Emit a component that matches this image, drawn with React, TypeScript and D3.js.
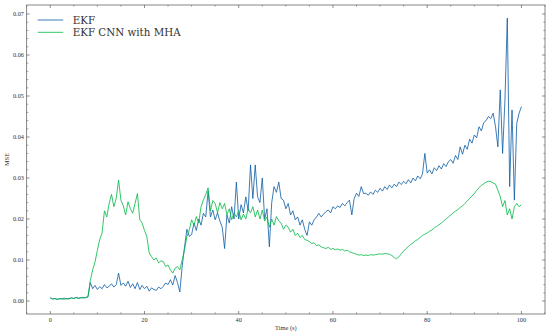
import React from "react";
import * as d3 from "d3";

const seriesNames = ["EKF", "EKF CNN with MHA"];
const xTicks = [0, 20, 40, 60, 80, 100];
const yTicks = [0, 0.01, 0.02, 0.03, 0.04, 0.05, 0.06, 0.07];
const yTickLabels = ["0.00", "0.01", "0.02", "0.03", "0.04", "0.05", "0.06", "0.07"];

// sampled every 0.5 s from 0 to 100 s
const ekf = [
  0.0008, 0.0005, 0.0006, 0.0004, 0.0006, 0.0005, 0.0007, 0.0005, 0.0006, 0.0008,
  0.0006, 0.0009, 0.0007, 0.0008, 0.0009, 0.0008, 0.001, 0.0045, 0.003, 0.0038,
  0.0028, 0.0035, 0.003, 0.004, 0.0032, 0.0036, 0.0042, 0.0034, 0.004, 0.0068,
  0.0038, 0.0044, 0.0036, 0.0048, 0.0033, 0.0042, 0.003, 0.0045, 0.0028, 0.0038,
  0.003, 0.0036, 0.0024, 0.0032, 0.0028, 0.0026, 0.0034, 0.003, 0.0036, 0.0044,
  0.004, 0.0052, 0.0039, 0.0062, 0.0045, 0.0022, 0.0085, 0.0132, 0.0175, 0.0158,
  0.0162, 0.019, 0.0172, 0.02, 0.0185, 0.0214, 0.0205, 0.0268, 0.0205, 0.0222,
  0.0198, 0.0215, 0.0195, 0.018, 0.0128, 0.021, 0.019, 0.023, 0.02, 0.029,
  0.02, 0.0235, 0.0215, 0.0254, 0.022, 0.0332, 0.025, 0.0332, 0.0254, 0.024,
  0.03, 0.02, 0.0225, 0.0132, 0.024, 0.0279, 0.0265, 0.029, 0.025, 0.0246,
  0.0225, 0.0238, 0.021, 0.022, 0.0198, 0.0205, 0.0185, 0.0198, 0.0175, 0.016,
  0.0193, 0.0185, 0.0198, 0.0205, 0.0214, 0.0205, 0.0212, 0.0218, 0.0222, 0.0215,
  0.023, 0.0225, 0.0232, 0.0228, 0.0238, 0.0232, 0.024, 0.0246, 0.021, 0.025,
  0.0263, 0.0255, 0.0279, 0.0262, 0.0263, 0.0258, 0.0266, 0.026, 0.027, 0.0265,
  0.0275, 0.0268, 0.0279, 0.0272, 0.0283, 0.0276, 0.0285, 0.0279, 0.029, 0.0284,
  0.0292, 0.0286, 0.0296, 0.0288, 0.03, 0.0293, 0.0305, 0.0298, 0.031, 0.036,
  0.0312, 0.032, 0.031, 0.0325, 0.0318, 0.033, 0.0322, 0.0335, 0.0328, 0.034,
  0.0345, 0.0336, 0.0355, 0.0345, 0.0376, 0.0358, 0.038, 0.037, 0.0395, 0.0385,
  0.0405, 0.0398, 0.0425, 0.0415, 0.0435, 0.044, 0.045, 0.0445, 0.0458, 0.0425,
  0.0376, 0.0515, 0.036, 0.049, 0.069, 0.0279, 0.0466, 0.0246, 0.0433, 0.0458,
  0.0474,
];

const cnnMha = [
  0.0007, 0.0005, 0.0006, 0.0004, 0.0005, 0.0006, 0.0004, 0.0006, 0.0005, 0.0007,
  0.0006, 0.0008, 0.0006, 0.0008, 0.0007, 0.0009, 0.001, 0.005, 0.0076, 0.0095,
  0.0124, 0.015, 0.0166, 0.022, 0.0205, 0.0238, 0.026, 0.023, 0.025, 0.0295,
  0.0246, 0.0232, 0.021, 0.0242, 0.0225, 0.0214, 0.0238, 0.0262, 0.0198, 0.019,
  0.0172, 0.0157, 0.0117, 0.0108, 0.01, 0.0105, 0.0093, 0.0098, 0.0096, 0.0084,
  0.0088, 0.0076, 0.0068, 0.008, 0.0084, 0.0076, 0.01, 0.0125, 0.0157, 0.0173,
  0.0198, 0.0185, 0.0206, 0.019, 0.023, 0.0246, 0.026, 0.0276, 0.022, 0.0245,
  0.0238, 0.0215, 0.024, 0.0225, 0.0238, 0.021, 0.0225, 0.0198, 0.0215, 0.0205,
  0.022, 0.0198, 0.0212, 0.02, 0.0225, 0.0215, 0.023, 0.0205, 0.0222, 0.02,
  0.0222, 0.0195, 0.0205, 0.018, 0.02, 0.0185, 0.0206, 0.0195, 0.019, 0.0175,
  0.0185, 0.018, 0.0168, 0.0175, 0.016, 0.0165, 0.0155, 0.016, 0.015, 0.0148,
  0.0145, 0.014, 0.0142, 0.0135, 0.0137, 0.0132, 0.013, 0.0128, 0.0131, 0.0126,
  0.0128, 0.0125, 0.0127, 0.0124, 0.0126, 0.0122, 0.0124, 0.012, 0.0118, 0.0116,
  0.0114, 0.0112, 0.0113, 0.0111, 0.0112, 0.0111, 0.0113, 0.0112, 0.0113, 0.0114,
  0.0115, 0.0114, 0.0116, 0.0115, 0.0114, 0.0111, 0.0106, 0.0103, 0.0108, 0.0115,
  0.0122, 0.0128, 0.0133, 0.0138, 0.0142, 0.0147, 0.015, 0.0155, 0.016, 0.0163,
  0.0166, 0.017, 0.0173, 0.0178, 0.0182, 0.0186, 0.019, 0.0195, 0.02, 0.0205,
  0.021, 0.0215, 0.0219, 0.0223, 0.0228, 0.0232, 0.0238, 0.0244, 0.025, 0.0256,
  0.0262, 0.027, 0.0276, 0.0282, 0.0286, 0.029, 0.0292, 0.0291, 0.0288, 0.0285,
  0.027, 0.0255, 0.023, 0.0245, 0.021, 0.0225, 0.02, 0.023, 0.0238, 0.023,
  0.0235,
];

const SAMPLE_STEP = 0.5;
const colors = ["#0C5DA5", "#00B945"];

const W = 550;
const H = 334;
const M = { left: 26.7, right: 545, top: 5, bottom: 314 };
const FONT = "'Liberation Serif', 'Times New Roman', serif";
const LEGEND_FONT = "'DejaVu Serif', 'Liberation Serif', serif";

export default function App() {
  const x = d3.scaleLinear().domain([-5, 105]).range([M.left, M.right]);
  const y = d3.scaleLinear().domain([-0.00317, 0.0722]).range([M.bottom, M.top]);

  const line = d3
    .line<number>()
    .x((_, i) => x(i * SAMPLE_STEP))
    .y((d) => y(d));

  const xMinor = d3.range(-5, 106, 5).filter((v) => v % 20 !== 0);
  const yMinor = d3
    .range(0, 36)
    .map((k) => k * 0.002)
    .filter((v) => Math.round(v * 1000) % 10 !== 0 && v <= 0.0722);

  const tickColor = "#444";
  const majorLen = 3;
  const minorLen = 1.6;

  return (
    <svg
      width={W}
      height={H}
      style={{ position: "absolute", left: 0, top: 0, background: "#fff" }}
    >
      <path d={line(ekf) || ""} fill="none" stroke={colors[0]} strokeWidth={1} strokeOpacity={0.8} />
      <path d={line(cnnMha) || ""} fill="none" stroke={colors[1]} strokeWidth={1} strokeOpacity={0.8} />

      <rect
        x={M.left}
        y={M.top}
        width={M.right - M.left}
        height={M.bottom - M.top}
        fill="none"
        stroke="#555"
        strokeWidth={0.7}
      />

      {xTicks.map((t) => (
        <g key={"xt" + t}>
          <line x1={x(t)} x2={x(t)} y1={M.bottom} y2={M.bottom - majorLen} stroke={tickColor} strokeWidth={0.6} />
          <line x1={x(t)} x2={x(t)} y1={M.top} y2={M.top + majorLen} stroke={tickColor} strokeWidth={0.6} />
          <text x={x(t)} y={M.bottom + 8} textAnchor="middle" fontFamily={FONT} fontSize={6.3} fill="#333">
            {t}
          </text>
        </g>
      ))}
      {xMinor.map((t) => (
        <g key={"xm" + t}>
          <line x1={x(t)} x2={x(t)} y1={M.bottom} y2={M.bottom - minorLen} stroke={tickColor} strokeWidth={0.5} />
          <line x1={x(t)} x2={x(t)} y1={M.top} y2={M.top + minorLen} stroke={tickColor} strokeWidth={0.5} />
        </g>
      ))}

      {yTicks.map((t, i) => (
        <g key={"yt" + t}>
          <line x1={M.left} x2={M.left + majorLen} y1={y(t)} y2={y(t)} stroke={tickColor} strokeWidth={0.6} />
          <line x1={M.right} x2={M.right - majorLen} y1={y(t)} y2={y(t)} stroke={tickColor} strokeWidth={0.6} />
          <text x={M.left - 2.7} y={y(t) + 2.1} textAnchor="end" fontFamily={FONT} fontSize={6.3} fill="#333">
            {yTickLabels[i]}
          </text>
        </g>
      ))}
      {yMinor.map((t) => (
        <g key={"ym" + t}>
          <line x1={M.left} x2={M.left + minorLen} y1={y(t)} y2={y(t)} stroke={tickColor} strokeWidth={0.5} />
          <line x1={M.right} x2={M.right - minorLen} y1={y(t)} y2={y(t)} stroke={tickColor} strokeWidth={0.5} />
        </g>
      ))}

      <text
        x={(M.left + M.right) / 2}
        y={329.5}
        textAnchor="middle"
        fontFamily={FONT}
        fontSize={6.4}
        fill="#333"
      >
        Time (s)
      </text>
      <text
        transform={`translate(9.4, ${(M.top + M.bottom) / 2}) rotate(-90)`}
        textAnchor="middle"
        fontFamily={FONT}
        fontSize={6.4}
        fill="#333"
      >
        MSE
      </text>

      {seriesNames.map((name, i) => (
        <g key={name}>
          <line
            x1={37.7}
            x2={63.3}
            y1={20 + i * 12.3}
            y2={20 + i * 12.3}
            stroke={colors[i]}
            strokeWidth={1}
            strokeOpacity={0.8}
          />
          <text x={72.7} y={23.8 + i * 12.3} fontFamily={LEGEND_FONT} fontSize={10.3} fill="#333">
            {name}
          </text>
        </g>
      ))}
    </svg>
  );
}
